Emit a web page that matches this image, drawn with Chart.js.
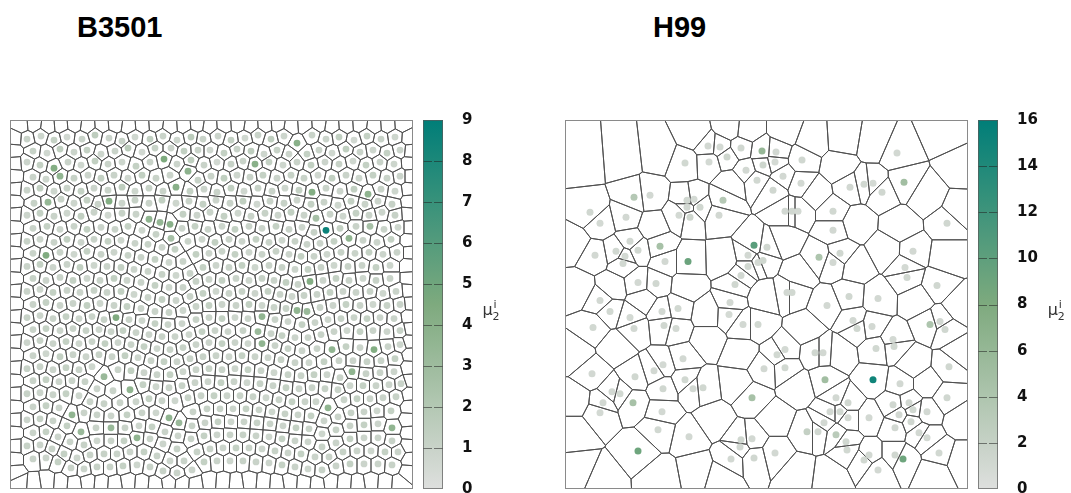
<!DOCTYPE html>
<html>
<head>
<meta charset="utf-8">
<script src="https://cdn.jsdelivr.net/npm/chart.js@4.4.1/dist/chart.umd.min.js"></script>
<style>
  html, body { margin: 0; padding: 0; background: #fff; }
  #wrap { position: relative; width: 1071px; height: 493px; overflow: hidden; }
  .title { position: absolute; top: 13px; font: bold 29px "Liberation Sans", Arial, sans-serif; line-height: 29px; color: #000; }
  .panel { position: absolute; top: 0; height: 493px; }
</style>
</head>
<body>
<div id="wrap">
  <div class="title" style="left:77px">B3501</div>
  <div class="title" style="left:653px">H99</div>
  <div class="panel" style="left:0;width:535px"><canvas id="b3501" width="535" height="493"></canvas></div>
  <div class="panel" style="left:535px;width:536px"><canvas id="h99" width="536" height="493"></canvas></div>
</div>
<script>
// Field of view in µm-like units (x to the right, y downward).
const FIELD_W = 403;
const FIELD_H = 368;

// B3501: cell centres with their mu_2^i value, [x, y, value] per cell, row by row.
const b3501Cells = [
  17,19,1, 31,16,0.8, 44,20,1.2, 57,17,0.6, 72,19,1, 85,15,1.5, 99,18,0.9, 112,21,1.1, 125,17,0.7, 140,19,1.3, 153,16,1, 167,20,0.8, 181,17,1.6, 193,19,1, 208,16,0.9, 221,20,1.2, 235,18,0.7, 248,15,1, 261,19,1.4, 274,16,0.8, 287,23,4, 302,15,1, 316,19,0.9, 329,17,1.3, 344,20,0.6, 357,16,1.2, 371,19,1, 385,17,0.8,
  23,31,1.1, 37,33,0.7, 50,29,1.4, 64,32,0.9, 77,30,1.2, 91,34,0.8, 105,31,1, 118,28,1.7, 132,32,0.6, 145,28,1.1, 161,28,0.9, 174,31,1.3, 188,30,1, 200,30,0.7, 214,33,1.2, 227,29,1, 241,31,1.5, 254,34,0.8, 267,30,1.1, 279,34,0.9, 297,34,1.2, 309,30,1, 322,33,0.7, 336,29,1.4, 350,32,1, 363,30,0.8, 377,33,1.2, 390,30,0.9,
  17,42,0.9, 30,45,1.2, 44,48,4.2, 58,42,1, 71,45,0.7, 85,41,1.3, 98,44,1, 112,42,0.8, 126,46,1.2, 140,42,1, 154,39,4.5, 167,44,0.9, 181,40,1.4, 194,45,1, 207,42,0.6, 221,44,1.1, 233,41,1, 245,44,4, 259,42,1.2, 273,45,0.8, 287,42,1, 301,45,1.3, 315,42,0.9, 329,44,1.1, 343,41,0.7, 356,45,1.2, 370,42,1, 384,44,0.8,
  23,57,1, 36,59,0.8, 50,56,3.6, 64,58,1.1, 78,55,0.9, 91,58,1.2, 104,55,1, 118,58,0.7, 132,55,1.3, 146,58,1, 160,55,0.9, 178,51,3.8, 188,60,1.1, 201,56,1, 214,58,1.4, 227,55,0.8, 240,57,1, 253,55,1.2, 267,58,0.9, 281,55,1.1, 294,58,1, 308,55,0.7, 322,58,1.3, 336,55,1, 349,58,0.8, 363,55,1.2, 377,58,1, 390,56,0.9,
  17,70,1, 30,68,1.3, 44,71,0.8, 57,68,1, 71,71,1.2, 84,68,0.9, 98,70,1, 112,67,1.5, 125,71,0.8, 139,68,1.1, 153,71,1, 166,67,4, 180,71,1.2, 194,69,0.9, 207,72,1, 221,68,1.3, 234,71,0.7, 248,68,1.1, 262,71,1, 275,68,0.8, 289,70,1.2, 302,72,4.2, 316,68,1, 330,71,0.9, 344,69,1.3, 358,74,3.6, 371,69,1, 385,71,0.8,
  24,83,1.1, 38,82,3.4, 51,79,1, 64,83,0.8, 77,80,1.2, 88,84,1, 99,81,4.2, 112,83,0.9, 125,80,1.1, 139,83,1, 152,80,1.3, 166,83,0.8, 179,81,1, 193,84,1.2, 206,80,0.9, 220,83,1, 233,81,1.4, 247,84,0.7, 260,81,1, 274,83,1.1, 287,80,0.9, 301,84,1.2, 314,82,1, 328,85,0.8, 341,81,1.2, 355,84,1, 368,81,0.9, 382,84,1.1,
  17,95,0.9, 30,93,1.2, 44,96,1, 57,93,0.8, 71,96,1.3, 84,92,1, 98,95,0.7, 112,93,1.1, 126,94,1, 139,99,3.6, 150,102,3.4, 160,104,4, 173,94,1.2, 187,95,0.9, 200,92,1, 214,96,1.2, 228,93,0.8, 241,96,1, 255,93,1.1, 268,95,0.9, 281,92,1.3, 294,95,1, 306,98,2.6, 320,94,1, 333,96,0.8, 346,93,1.2, 359,95,1, 372,92,0.9, 385,95,1.1,
  23,108,1, 37,106,1.2, 50,109,0.8, 64,106,1, 77,109,1.3, 91,107,0.9, 105,109,1, 118,106,1.2, 132,110,0.8, 146,114,1.1, 161,118,2.6, 172,108,0.9, 185,106,1.2, 198,109,1, 212,106,0.8, 225,109,1.3, 239,106,1, 252,108,0.9, 266,106,1.2, 279,109,1, 292,107,0.8, 304,112,1.1, 316,110,8.6, 330,108,1.2, 346,106,1, 360,106,2.6, 374,109,1, 388,107,0.8,
  17,121,1.1, 30,119,0.8, 44,122,1, 57,119,1.3, 71,122,0.9, 84,119,1, 98,121,1.2, 111,120,0.8, 125,123,1, 138,124,1.1, 152,127,0.9, 165,129,1.2, 178,121,1, 192,119,0.8, 205,122,1.3, 219,119,1, 232,121,0.9, 246,119,1.2, 259,122,1, 272,120,0.8, 285,121,1.1, 297,124,1, 310,123,0.9, 324,121,1.2, 339,118,3.6, 353,120,1, 367,122,0.9, 381,119,1.2,
  23,133,1, 36,135,4.4, 50,132,1, 64,134,0.8, 77,131,1.2, 91,134,1, 104,132,0.9, 118,135,1.1, 131,137,1, 145,139,1.2, 159,142,0.8, 173,141,1, 186,134,1.3, 199,133,0.9, 212,131,1, 225,134,1.2, 239,132,0.8, 252,134,1, 266,131,1.1, 279,134,0.9, 291,136,1.2, 304,136,1, 317,134,0.8, 331,132,1.1, 345,133,1, 359,132,1.2, 373,134,0.9, 387,132,1,
  17,146,1, 30,144,1.2, 43,147,0.9, 57,144,1, 70,147,1.3, 84,145,0.8, 97,146,1, 111,147,1.2, 124,149,0.9, 138,151,1, 152,154,1.1, 166,155,0.8, 180,153,1, 193,147,1.2, 206,145,0.9, 219,147,1, 232,145,1.3, 245,147,0.8, 259,145,1, 272,147,1.1, 285,149,0.9, 298,149,1.2, 311,147,1, 324,145,0.8, 338,146,1.1, 352,145,1, 366,147,1.2, 380,145,0.9,
  23,158,1.1, 36,160,0.9, 50,157,1, 63,160,1.2, 77,158,0.8, 90,160,1, 104,158,1.3, 117,160,0.9, 131,162,1, 145,165,1.2, 159,167,0.8, 173,167,1, 186,161,1.1, 199,159,0.9, 212,160,1.2, 226,158,1, 239,160,0.8, 252,158,1.1, 264,160,1, 276,162,1.3, 288,164,1, 300,161,4.2, 313,160,0.9, 326,158,1.2, 339,160,1, 353,158,0.8, 366,160,1.1, 380,158,1,
  17,171,1, 30,169,0.8, 43,172,1.2, 57,170,1, 70,172,0.9, 84,170,1.1, 97,172,1, 111,171,1.3, 124,174,0.8, 138,177,1, 152,179,1.2, 166,180,0.9, 180,176,1, 193,173,1.2, 206,171,0.8, 219,173,1, 232,171,1.1, 245,173,0.9, 258,171,1.2, 270,174,1, 282,176,0.8, 294,175,1.1, 307,174,1, 320,172,1.2, 333,171,0.9, 346,172,1, 360,171,1.1, 373,173,0.8, 386,171,1,
  23,184,1, 36,182,1.2, 50,185,0.9, 63,183,1, 77,185,1.3, 90,183,0.8, 104,185,1, 117,186,1.2, 131,188,0.9, 145,191,1, 159,192,1.1, 173,190,0.8, 186,186,1, 199,185,1.2, 212,184,0.9, 226,185,1, 239,184,1.3, 252,185,0.8, 264,187,1, 276,188,1.1, 287,190,3.6, 297,191,3.2, 310,187,1, 323,185,0.9, 336,184,1.2, 350,185,1, 363,184,0.8, 377,185,1.1, 390,184,1,
  17,197,1.1, 30,195,0.9, 43,198,1, 56,196,1.2, 69,198,0.8, 82,196,1, 94,199,1.1, 106,197,4.4, 119,199,1, 132,200,0.8, 145,203,1.2, 158,204,1, 172,203,0.9, 186,199,1.1, 199,197,1, 212,198,1.3, 225,197,0.8, 238,198,1, 252,196,3.6, 265,199,1, 278,201,0.9, 292,204,1.2, 305,202,1, 318,199,0.8, 331,198,1.1, 344,197,1, 357,198,1.2, 370,197,0.9, 384,198,1,
  23,209,1, 36,208,1.2, 50,210,0.9, 63,208,1, 76,210,1.1, 89,209,0.8, 101,211,1, 113,210,1.2, 126,212,1, 139,214,0.9, 152,216,1.1, 165,216,1, 179,214,0.8, 192,211,1.2, 205,210,1, 218,211,0.9, 233,210,1.1, 248,211,3.2, 261,213,1, 272,215,1.2, 285,217,0.9, 298,217,1, 311,214,1.1, 324,211,1, 337,210,0.8, 350,211,1.2, 363,210,1, 377,211,0.9, 390,210,1.1,
  17,222,0.9, 30,220,1.1, 43,223,1, 56,221,1.2, 69,223,0.8, 82,221,1, 95,223,1.3, 108,222,0.9, 121,224,1, 134,226,1.2, 147,228,0.8, 160,229,1, 173,227,1.1, 186,224,1, 199,222,0.9, 212,223,1.2, 225,222,1, 238,223,0.8, 252,223,3.6, 265,225,1, 278,228,1.1, 292,230,0.9, 307,228,1, 322,229,3.6, 336,226,1.2, 350,227,0.9, 364,229,4.2, 378,226,1, 390,224,0.8,
  23,235,1, 36,233,0.8, 50,236,1.2, 63,234,1, 76,236,0.9, 89,234,1.1, 102,236,1, 115,235,1.3, 128,237,0.8, 141,240,1, 154,241,1.2, 167,241,0.9, 180,238,1, 193,236,1.1, 206,235,1, 219,236,0.8, 232,235,1.2, 245,236,1, 258,237,0.9, 271,239,1.1, 285,242,1, 299,242,0.8, 314,241,1.2, 329,240,1, 343,240,0.9, 357,241,1.1, 371,240,1, 385,238,1.2,
  17,248,1.1, 30,246,1, 43,249,0.9, 56,247,1.2, 69,249,1, 82,246,0.8, 94,256,3.2, 108,249,1, 121,250,1.3, 134,252,0.9, 147,254,1, 160,254,1.2, 173,251,0.8, 186,249,1, 199,248,1.1, 212,249,1, 225,248,0.9, 238,249,1.2, 251,250,1, 264,252,0.8, 278,254,1.1, 291,255,1, 304,254,1.2, 317,254,0.9, 330,257,1, 342,251,3.6, 356,253,1.1, 370,252,1, 384,251,0.9,
  23,260,1, 36,259,1.2, 49,261,0.9, 62,260,1, 75,261,1.1, 87,268,0.9, 103,270,1, 120,269,3.6, 133,264,1.2, 146,266,0.8, 159,267,1, 172,265,1.1, 185,262,1, 198,261,0.9, 211,262,1.2, 224,261,1, 237,262,0.8, 250,263,1.1, 263,265,1, 276,267,1.2, 289,268,0.9, 302,267,1, 315,268,1.1, 328,269,1, 340,265,0.8, 353,265,1.2, 366,265,1, 379,264,0.9, 391,263,1,
  17,273,1.1, 30,272,0.9, 43,274,1, 56,273,1.2, 69,275,0.8, 80,281,1, 94,283,1.1, 110,282,1, 126,281,0.9, 139,278,1.2, 152,280,1, 165,280,0.8, 178,277,1.1, 191,275,1, 204,275,1.2, 217,275,0.9, 230,275,1, 243,276,1.1, 256,277,0.8, 269,279,1, 282,281,1.2, 295,281,1, 306,281,0.9, 318,287,3.6, 334,279,1, 347,278,1.2, 360,278,0.9, 373,277,1, 386,276,1.1,
  23,286,1, 36,285,1.2, 49,287,0.9, 62,294,3.6, 74,292,1, 87,294,1, 101,295,0.9, 117,294,1.2, 132,292,1, 146,292,0.8, 159,297,3.6, 169,302,3.2, 183,291,1, 197,288,1.1, 210,288,1, 223,288,0.9, 236,288,1.2, 249,289,1, 262,291,0.8, 275,293,1.1, 288,294,1, 301,295,1.2, 314,300,0.9, 328,296,1, 341,292,1.1, 354,291,1, 367,290,0.8, 381,290,1.2,
  17,299,0.9, 30,298,1.1, 43,300,1, 57,305,1.2, 71,311,3.2, 86,307,1, 101,307,3.2, 115,307,1, 129,305,0.8, 142,306,1.2, 155,311,1, 168,315,0.9, 182,305,1.1, 195,302,1, 208,301,1.2, 221,301,0.8, 234,301,1, 247,302,1.1, 260,303,1, 273,305,0.9, 286,307,1.2, 299,308,1, 312,313,0.8, 326,309,1.1, 340,305,1, 354,304,1.2, 368,303,0.9, 382,307,3.6,
  23,312,1, 36,311,1.2, 48,316,0.9, 60,321,1, 74,324,1.1, 87,320,0.8, 101,320,1, 114,320,1.2, 127,317,3.6, 140,318,1, 153,323,0.9, 167,328,1.1, 181,318,1, 194,315,1.2, 207,314,0.9, 220,314,1, 233,314,1.1, 246,315,1, 259,316,0.8, 272,318,1.2, 285,320,1, 298,321,0.9, 312,326,1.1, 326,322,1, 340,318,1.2, 354,317,0.9, 368,317,1, 382,320,1.1,
  17,325,1.1, 30,324,0.9, 42,328,1, 54,333,1.2, 67,337,0.8, 80,334,1, 94,333,1.1, 107,333,1, 120,331,0.9, 134,331,1.2, 147,335,1, 160,340,0.8, 174,340,1, 187,331,1.1, 200,328,1, 213,327,0.9, 226,327,1.2, 239,327,1, 252,328,0.8, 265,330,1.1, 278,332,1, 291,333,1.2, 305,336,0.9, 319,336,1, 333,331,1.1, 347,330,1, 361,330,0.8, 375,331,1.2, 388,331,1,
  23,338,1, 36,337,0.9, 48,341,1.2, 61,347,1, 74,348,0.9, 87,346,1.1, 100,346,1, 113,345,1.2, 127,344,0.8, 140,346,1, 153,350,1.1, 167,352,1, 182,349,0.9, 194,341,1.2, 207,340,1, 220,340,0.8, 233,340,1.1, 246,341,1, 259,342,0.9, 272,344,1.2, 285,346,1, 298,348,0.8, 312,349,1.1, 326,345,1, 340,343,1.2, 354,343,0.9, 368,343,1, 382,344,1.1
];

// B3501: cells cut by the field border (no value shown), [x, y] per cell.
const b3501BorderCells = [
  // top
  11,5, 24,4, 38,6, 51,5, 64,4, 78,6, 92,5, 105,4, 119,6, 132,5, 146,4, 160,6, 174,5, 187,4, 200,6, 214,5, 228,4, 241,6, 255,5, 268,4, 281,6, 295,5, 309,4, 322,6, 336,5, 350,4, 364,6, 378,5, 392,4,
  // bottom
  10,362, 24,363, 37,361, 51,362, 64,363, 78,361, 91,362, 105,363, 118,361, 132,362, 145,363, 159,361, 172,362, 186,363, 199,361, 213,362, 226,363, 240,361, 253,362, 267,363, 280,361, 294,362, 307,363, 321,361, 334,362, 348,363, 361,361, 375,362, 389,363,
  // left
  5,18, 4,31, 5,43, 4,56, 5,69, 4,81, 5,94, 4,107, 5,120, 4,132, 5,145, 4,158, 5,170, 4,183, 5,196, 4,208, 5,221, 4,234, 5,247, 4,260, 5,273, 4,286, 5,299, 4,312, 5,325, 4,338, 5,351,
  // right
  399,18, 400,31, 399,43, 400,56, 399,69, 400,81, 399,94, 400,107, 399,120, 400,132, 399,145, 400,158, 399,170, 400,183, 399,196, 400,208, 399,221, 400,234, 399,247, 400,260, 399,273, 400,286, 399,299, 400,312, 399,325, 400,338, 399,351
];

// H99: measured cells, [x, y, value] per cell.
const h99Cells = [
  143,26,1, 155,27,0.8, 176,28,1.2, 197,31,6, 211,32,1, 120,43,1.1, 144,42,0.9, 162,37,1.3, 181,50,1, 198,45,1.4,
  210,42,0.8, 237,40,1.2, 332,33,1, 192,60,1.1, 218,56,1, 208,70,1.2, 236,63,0.9, 285,67,1, 299,64,1.1, 308,63,0.8,
  317,72,1.2, 339,62,5, 69,77,3.4, 85,75,1, 25,92,1.2, 35,103,0.9, 61,97,1, 122,80,1.1, 129,79,0.8, 135,87,1.2,
  122,87,1, 114,95,0.9, 125,97,1.3, 154,95,1, 158,80,3.4, 220,91,1, 227,91,1.2, 233,91,0.9, 268,91,1.1, 268,110,1,
  382,103,1.2, 30,135,1, 51,131,1.1, 60,136,0.9, 73,130,1.2, 65,121,1, 95,126,4.6, 100,141,1, 123,141,9.2, 58,143,1.1,
  189,125,10.2, 183,135,1, 202,127,1.2, 193,142,0.9, 183,146,1.1, 176,155,1, 198,140,1.3, 254,137,4, 268,142,1, 275,133,1.2,
  348,131,1, 340,147,0.9, 342,157,1.1, 372,165,1.2, 35,180,1, 45,191,1.1, 65,197,0.9, 73,162,1, 91,163,1.2, 97,191,1,
  113,188,1.1, 165,182,1, 164,194,0.8, 170,164,1.2, 222,172,1, 227,172,1.1, 262,185,1, 284,176,1.2, 313,178,1, 28,207,1.1,
  69,208,1, 99,205,1.2, 111,208,0.9, 178,204,1, 193,204,1.1, 288,200,1, 292,208,1.2, 307,206,1, 328,219,0.9, 329,226,1.1,
  365,204,4, 375,201,1, 380,209,1.2, 118,238,1, 212,234,1.1, 220,229,0.9, 250,232,1.2, 258,232,1, 311,228,1.1, 27,253,1,
  70,256,1.2, 89,250,1, 98,244,0.9, 120,259,1.1, 128,268,1, 138,267,1.2, 199,248,1, 220,247,1.1, 260,259,5, 308,259,15,
  335,263,1, 384,246,1.2, 47,271,1, 55,273,1.1, 38,282,1, 68,282,4.6, 98,268,1.2, 97,291,1, 35,292,0.9, 187,277,4.6,
  271,277,1, 283,282,1.2, 265,291,1, 275,291,1.1, 283,297,0.9, 304,297,1, 328,284,1.2, 344,282,1, 348,289,1.1, 334,294,1,
  382,277,1.2, 362,291,1, 93,309,1.1, 124,316,1, 176,319,1.2, 187,318,1, 242,311,2.2, 253,311,1.2, 259,302,1, 271,314,3,
  281,321,1.1, 330,307,1, 346,301,1.2, 354,312,1, 362,317,0.9, 374,332,1.1, 73,330,9, 166,338,1, 189,337,1.2, 210,332,1,
  282,329,1.1, 304,334,1, 330,334,1.2, 338,338,9, 313,349,1, 299,339,1.1, 175,326,1
];

// H99: cells without a measured value, [x, y] per cell.
const h99EmptyCells = [
  19,40, 58,37, 93,33, 130,15, 164,8, 183,10, 220,10, 247,20, 279,18, 309,23,
  380,12, 396,47, 274,47, 362,76, 394,90, 291,103, 335,106, 250,73, 166,63, 88,106,
  9,123, 14,169, 47,166, 122,166, 159,140, 220,120, 233,153, 291,146, 321,130, 382,136,
  352,179, 394,186, 200,176, 142,193, 78,179, 10,233, 51,226, 142,219, 176,233, 240,209,
  274,233, 348,243, 394,233, 172,263, 233,266, 362,263, 10,279, 10,312, 14,349, 37,359,
  95,356, 132,349, 149,299, 156,356, 210,299, 233,352, 264,356, 369,352, 396,339, 396,299
];

// Colour-bar ranges and tick steps.
const b3501Range = [0, 9];
const b3501TickStep = 1;
const h99Range = [0, 16];
const h99TickStep = 2;

// Grey -> sage -> teal colour map.
const GRAY = [222, 223, 222], SAGE = [126, 170, 126], TEAL = [0, 126, 120];
function cmap(t) {
  t = Math.max(0, Math.min(1, t));
  const [a, b, u] = t < 0.5 ? [GRAY, SAGE, t / 0.5] : [SAGE, TEAL, (t - 0.5) / 0.5];
  return 'rgb(' + a.map((c, i) => Math.round(c + (b[i] - c) * u)).join(',') + ')';
}

function triples(flat) {
  const out = [];
  for (let i = 0; i < flat.length; i += 3) out.push({ x: flat[i], y: flat[i + 1], v: flat[i + 2] });
  return out;
}
function pairs(flat) {
  const out = [];
  for (let i = 0; i < flat.length; i += 2) out.push([flat[i], flat[i + 1]]);
  return out;
}

// Keep the part of a polygon where a*x + b*y <= c.
function clipPoly(poly, a, b, c) {
  const out = [];
  for (let i = 0; i < poly.length; i++) {
    const p = poly[i], q = poly[(i + 1) % poly.length];
    const dp = a * p[0] + b * p[1] - c, dq = a * q[0] + b * q[1] - c;
    if (dp <= 0) out.push(p);
    if ((dp < 0 && dq > 0) || (dp > 0 && dq < 0)) {
      const t = dp / (dp - dq);
      out.push([p[0] + t * (q[0] - p[0]), p[1] + t * (q[1] - p[1])]);
    }
  }
  return out;
}

// Voronoi cells of pixel-space seeds, clipped to the plotting box.
function voronoi(pts, box) {
  return pts.map((p, i) => {
    let poly = [[box.left, box.top], [box.right, box.top], [box.right, box.bottom], [box.left, box.bottom]];
    const others = [];
    pts.forEach((q, j) => { if (j !== i) others.push({ q, d: (q[0] - p[0]) ** 2 + (q[1] - p[1]) ** 2 }); });
    others.sort((m, n) => m.d - n.d);
    for (const o of others) {
      let r2 = 0;
      for (const v of poly) r2 = Math.max(r2, (v[0] - p[0]) ** 2 + (v[1] - p[1]) ** 2);
      if (o.d > 4 * r2) break;
      const q = o.q;
      const a = q[0] - p[0], b = q[1] - p[1];
      const c = (q[0] * q[0] + q[1] * q[1] - p[0] * p[0] - p[1] * p[1]) / 2;
      poly = clipPoly(poly, a, b, c);
      if (!poly.length) break;
    }
    return poly;
  });
}

// Draws the cell walls under the scatter points.
function cellWalls(seedList, style) {
  let cache = null, key = '';
  return {
    id: 'cellWalls',
    beforeDatasetsDraw(chart) {
      const { ctx, chartArea: a, scales } = chart;
      const k = [a.left, a.top, a.right, a.bottom].join();
      if (k !== key) {
        const px = seedList.map(([sx, sy]) => [scales.x.getPixelForValue(sx), scales.y.getPixelForValue(sy)]);
        cache = voronoi(px, a);
        key = k;
      }
      ctx.save();
      ctx.beginPath();
      ctx.rect(a.left, a.top, a.right - a.left, a.bottom - a.top);
      ctx.clip();
      ctx.beginPath();
      for (const poly of cache) {
        if (poly.length < 3) continue;
        ctx.moveTo(poly[0][0], poly[0][1]);
        for (let i = 1; i < poly.length; i++) ctx.lineTo(poly[i][0], poly[i][1]);
        ctx.closePath();
      }
      ctx.lineWidth = style.width;
      ctx.strokeStyle = style.color;
      ctx.lineJoin = 'round';
      ctx.stroke();
      ctx.restore();
    }
  };
}

// Frame, colour bar with dashed tick marks, and the colour-bar symbol.
const colourBar = {
  id: 'colourBar',
  afterDraw(chart) {
    const { ctx, chartArea: a } = chart;
    const cb = chart.scales.cb;
    const x0 = a.right + 10, w = 20;
    const top = cb.getPixelForValue(cb.max), bot = cb.getPixelForValue(cb.min);
    ctx.save();
    const g = ctx.createLinearGradient(0, bot, 0, top);
    for (let i = 0; i <= 20; i++) g.addColorStop(i / 20, cmap(i / 20));
    ctx.fillStyle = g;
    ctx.fillRect(x0, top, w, bot - top);
    ctx.strokeStyle = 'rgba(35,35,35,0.55)';
    ctx.lineWidth = 1;
    ctx.beginPath();
    cb.ticks.forEach(t => {
      if (t.value <= cb.min || t.value >= cb.max) return;
      const py = Math.round(cb.getPixelForValue(t.value)) + 0.5;
      ctx.moveTo(x0, py); ctx.lineTo(x0 + 9, py);
      ctx.moveTo(x0 + 11, py); ctx.lineTo(x0 + w, py);
    });
    ctx.stroke();
    ctx.strokeStyle = 'rgba(90,90,90,0.7)';
    ctx.strokeRect(x0 + 0.5, top + 0.5, w - 1, bot - top - 1);
    ctx.strokeStyle = '#8a8a8a';
    ctx.strokeRect(a.left + 0.5, a.top + 0.5, a.right - a.left - 1, a.bottom - a.top - 1);

    ctx.font = 'bold 15px "DejaVu Sans"';
    const wd = Math.max(...cb.ticks.map(t => ctx.measureText(String(t.label)).width));
    const lx = a.right + 49 + wd + 10;
    const mid = (top + bot) / 2;
    ctx.fillStyle = '#333';
    ctx.textAlign = 'left';
    ctx.textBaseline = 'alphabetic';
    ctx.font = '16px "DejaVu Sans"';
    ctx.fillText('\u03BC', lx, mid + 10);
    ctx.font = '11px "DejaVu Sans"';
    ctx.fillText('i', lx + 11, mid + 3);
    ctx.fillText('2', lx + 10, mid + 15);
    ctx.restore();
  }
};

function buildPanel(canvasId, o) {
  const dots = triples(o.cells);
  const seeds = dots.map(d => [d.x, d.y]).concat(pairs(o.emptyCells));
  const vmax = o.range[1];
  return new Chart(document.getElementById(canvasId), {
    type: 'scatter',
    data: {
      datasets: [{
        data: dots,
        pointRadius: o.dotRadius,
        pointHoverRadius: o.dotRadius,
        pointBorderWidth: 0,
        pointBackgroundColor: dots.map(d => cmap((d.v - o.range[0]) / (vmax - o.range[0])))
      }]
    },
    options: {
      responsive: false,
      animation: false,
      devicePixelRatio: 1,
      events: [],
      layout: { padding: { left: o.padLeft, top: 120, right: 0, bottom: 4 } },
      plugins: { legend: { display: false }, tooltip: { enabled: false }, title: { display: false } },
      scales: {
        x: { type: 'linear', min: 0, max: FIELD_W, display: false },
        y: { type: 'linear', min: 0, max: FIELD_H, reverse: true, display: false },
        cb: {
          type: 'linear', axis: 'y', position: 'right',
          min: o.range[0], max: vmax,
          ticks: { stepSize: o.step, padding: 49, color: '#111', font: { family: '"DejaVu Sans"', weight: 'bold', size: 15 } },
          grid: { display: false, drawTicks: false },
          border: { display: false },
          afterFit(s) { s.width = o.axisWidth; s.paddingTop = 0; s.paddingBottom = 0; }
        }
      }
    },
    plugins: [cellWalls(seeds, o.walls), colourBar]
  });
}

buildPanel('b3501', {
  cells: b3501Cells, emptyCells: b3501BorderCells, range: b3501Range, step: b3501TickStep,
  dotRadius: 3.4, padLeft: 10, axisWidth: 122, walls: { color: '#4e4e4e', width: 0.9 }
});
buildPanel('h99', {
  cells: h99Cells, emptyCells: h99EmptyCells, range: h99Range, step: h99TickStep,
  dotRadius: 3.5, padLeft: 30, axisWidth: 103, walls: { color: '#505050', width: 1 }
});
</script>
</body>
</html>
